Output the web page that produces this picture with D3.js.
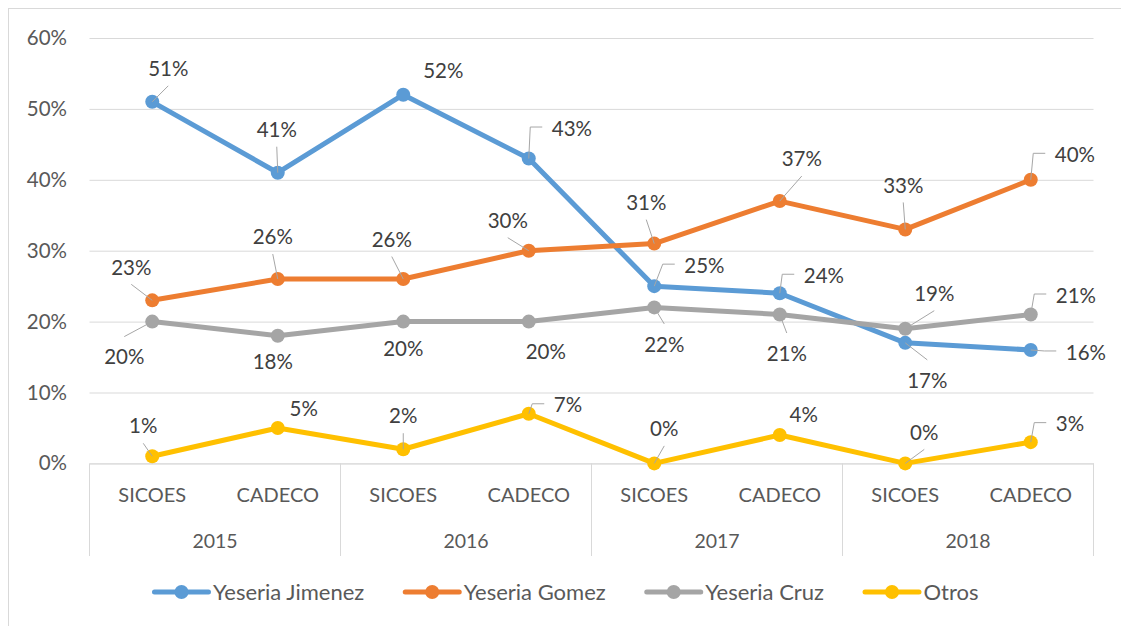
<!DOCTYPE html>
<html>
<head>
<meta charset="utf-8">
<script src="https://cdn.jsdelivr.net/npm/d3@7"></script>
<style>
    html, body { margin: 0; padding: 0; background: #fff; }
    svg { display: block; font-family: Lato, 'Noto Sans', sans-serif; }
</style>
</head>
<body>
<div id="chart"></div>
<script>
var years = ['2015', '2016', '2017', '2018'];
var sources = ['SICOES', 'CADECO'];
var seriesNames = ['Yeseria Jimenez', 'Yeseria Gomez', 'Yeseria Cruz', 'Otros'];
var jimenez = [0.51, 0.41, 0.52, 0.43, 0.25, 0.24, 0.17, 0.16];
var gomez = [0.23, 0.26, 0.26, 0.30, 0.31, 0.37, 0.33, 0.40];
var cruz = [0.20, 0.18, 0.20, 0.20, 0.22, 0.21, 0.19, 0.21];
var otros = [0.01, 0.05, 0.02, 0.07, 0.00, 0.04, 0.00, 0.03];
var yTicks = [0, 0.1, 0.2, 0.3, 0.4, 0.5, 0.6];

// where Excel put each data label: [dx, dy, leader] relative to the point
// leader: s = straight, e = elbow (dx is text left edge), n = none
var labelPlacement = [
    [[16, -33, 's'], [-1, -43, 's'], [40, -24, 'n'], [23, -30, 'e'], [30, -20.5, 'e'], [24, -17.5, 'e'], [22, 37.5, 's'], [35, 2.5, 'e']],
    [[-21, -33, 's'], [-5, -42, 's'], [-11.5, -39.5, 's'], [-21, -30, 's'], [-8, -41, 's'], [22, -42, 's'], [-2, -44, 's'], [24, -25, 'e']],
    [[-28, 35.5, 's'], [-5, 26, 'n'], [0, 27.5, 'n'], [17, 30.5, 'n'], [10, 37, 's'], [7, 39, 's'], [29, -35, 's'], [25, -19, 'e']],
    [[-9, -30, 's'], [26, -19.5, 'n'], [0, -33, 's'], [25, -8.5, 'e'], [10, -34.5, 's'], [24, -20.5, 'n'], [19, -31, 's'], [25, -18, 'e']]
];

(function() {
    'use strict';

    var W = 1121, H = 626;
    var plot = {left: 89.5, right: 1093.5, top: 38, bottom: 463.4};
    var colors = ['#5B9BD5', '#ED7D31', '#A5A5A5', '#FFC000'];
    var values = [jimenez, gomez, cruz, otros];
    var axisColor = '#d9d9d9';
    // Lato stands in for Calibri; sizes tuned so widths match
    var sizes = {tick: '20.5px', label: '20.5px', cat: '20px', year: '19.5px', legend: '22px'};

    var categories = [];
    years.forEach(function(yr) {
        sources.forEach(function(s) { categories.push(yr + '|' + s) })
    });

    var x = d3.scaleBand().domain(categories).range([plot.left, plot.right]);
    var y = d3.scaleLinear().domain([0, 0.6]).range([plot.bottom, plot.top]);
    var cx = function(i) { return x(categories[i]) + x.bandwidth() / 2 };

    var svg = d3.select('#chart').append('svg')
        .attr('width', W)
        .attr('height', H);

    svg.append('rect')
        .attr('x', 8.5).attr('y', 8.5)
        .attr('width', 1200).attr('height', 700)
        .attr('fill', 'none')
        .attr('stroke', axisColor);

    // value axis + gridlines
    svg.append('g')
        .attr('transform', 'translate(' + plot.left + ',0)')
        .call(d3.axisLeft(y)
            .tickValues(yTicks)
            .tickFormat(d3.format('.0%'))
            .tickSize(-(plot.right - plot.left))
            .tickPadding(22.5))
        .attr('font-family', null)
        .attr('font-size', null)
        .call(function(g) { g.select('.domain').remove() })
        .call(function(g) { g.selectAll('.tick line').attr('stroke', axisColor) })
        .call(function(g) {
            g.selectAll('.tick text')
                .attr('fill', '#595959')
                .style('font-size', sizes.tick)
        });

    // category axis
    svg.append('g')
        .attr('transform', 'translate(0,' + plot.bottom + ')')
        .call(d3.axisBottom(x)
            .tickSize(0)
            .tickFormat(function(d) { return d.split('|')[1] }))
        .attr('font-family', null)
        .attr('font-size', null)
        .call(function(g) { g.select('.domain').attr('stroke', axisColor) })
        .call(function(g) {
            g.selectAll('.tick text')
                .attr('y', 31.6)
                .attr('dy', '0.35em')
                .attr('fill', '#595959')
                .style('font-size', sizes.cat)
        });

    var groups = svg.append('g');
    var bounds = years.map(function(yr) { return x(yr + '|' + sources[0]) }).concat([plot.right]);
    groups.selectAll('line')
        .data(bounds)
        .join('line')
        .attr('x1', function(d) { return d }).attr('x2', function(d) { return d })
        .attr('y1', plot.bottom).attr('y2', 556)
        .attr('stroke', axisColor);
    groups.selectAll('text')
        .data(years)
        .join('text')
        .attr('x', function(d, i) { return (bounds[i] + bounds[i + 1]) / 2 })
        .attr('y', 541.5)
        .attr('dy', '0.35em')
        .attr('text-anchor', 'middle')
        .attr('fill', '#595959')
        .style('font-size', sizes.year)
        .text(function(d) { return d });

    // series
    var line = d3.line()
        .x(function(d, i) { return cx(i) })
        .y(function(d) { return y(d) });

    values.forEach(function(vals, s) {
        var g = svg.append('g');
        g.append('path')
            .datum(vals)
            .attr('d', line)
            .attr('fill', 'none')
            .attr('stroke', colors[s])
            .attr('stroke-width', 5)
            .attr('stroke-linejoin', 'round')
            .attr('stroke-linecap', 'round');
        g.selectAll('circle')
            .data(vals)
            .join('circle')
            .attr('cx', function(d, i) { return cx(i) })
            .attr('cy', function(d) { return y(d) })
            .attr('r', 7)
            .attr('fill', colors[s]);
    });

    // data labels with leader lines
    var labels = svg.append('g');
    values.forEach(function(vals, s) {
        vals.forEach(function(v, i) {
            var p = labelPlacement[s][i];
            var px = cx(i), py = y(v);
            var lx = px + p[0], ly = py + p[1];
            labels.append('text')
                .attr('x', lx)
                .attr('y', ly)
                .attr('dy', '0.35em')
                .attr('text-anchor', p[2] === 'e' ? 'start' : 'middle')
                .attr('fill', '#404040')
                .style('font-size', sizes.label)
                .text(d3.format('.0%')(v));
            var pts = null;
            if (p[2] === 's') {
                pts = [[px, py], [lx, p[1] < 0 ? ly + 17 : ly - 20.5]];
            } else if (p[2] === 'e') {
                var ex = lx - 9.5, ey = ly - 1.5;
                pts = [[px, py], [ex - 12, ey], [ex, ey]];
            }
            if (pts) {
                labels.append('path')
                    .attr('d', d3.line()(pts))
                    .attr('fill', 'none')
                    .attr('stroke', '#a6a6a6')
                    .attr('stroke-width', 1);
            }
        });
    });

    // legend, centred under the chart
    var legend = svg.append('g').attr('transform', 'translate(0,592)');
    var items = legend.selectAll('g')
        .data(seriesNames)
        .join('g');
    items.append('line')
        .attr('x1', 0).attr('x2', 54)
        .attr('stroke', function(d, i) { return colors[i] })
        .attr('stroke-width', 5)
        .attr('stroke-linecap', 'round');
    items.append('circle')
        .attr('cx', 27)
        .attr('r', 7)
        .attr('fill', function(d, i) { return colors[i] });
    items.append('text')
        .attr('x', 58.5)
        .attr('dy', '0.35em')
        .attr('fill', '#595959')
        .style('font-size', sizes.legend)
        .text(function(d) { return d });

    var widths = [];
    items.select('text').each(function() { widths.push(58.5 + this.getComputedTextLength()) });
    var gap = 41;
    var total = d3.sum(widths) + gap * (widths.length - 1);
    var pos = 566.5 - total / 2;
    items.attr('transform', function(d, i) {
        var tx = pos;
        pos += widths[i] + gap;
        return 'translate(' + tx + ',0)';
    });
})();
</script>
</body>
</html>
